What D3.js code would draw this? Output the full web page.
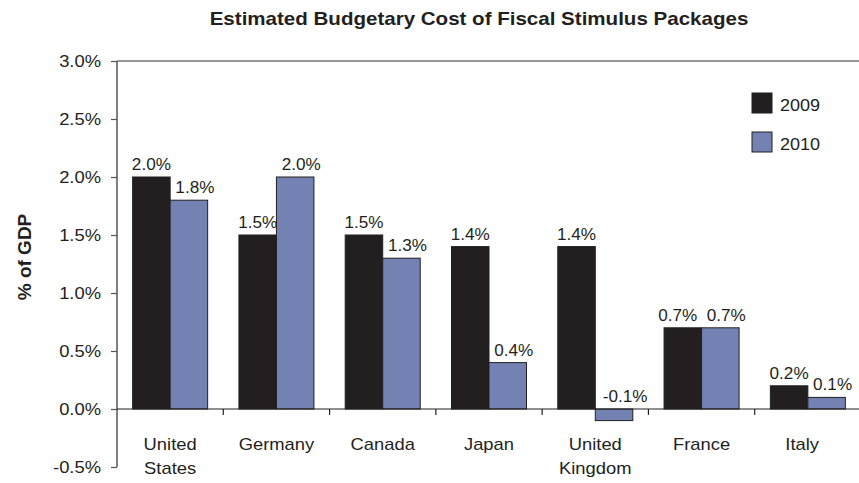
<!DOCTYPE html>
<html>
<head>
<meta charset="utf-8">
<script src="https://cdn.jsdelivr.net/npm/d3@7"></script>
<style>
  html, body { margin: 0; padding: 0; background: #fff; }
  svg { display: block; font-family: "Liberation Sans", Arial, Helvetica, sans-serif; }
</style>
</head>
<body>
<svg id="chart" width="859" height="483"></svg>
<script>
// Estimated budgetary cost of fiscal stimulus packages, % of GDP
const categories = [["United", "States"], ["Germany"], ["Canada"], ["Japan"], ["United", "Kingdom"], ["France"], ["Italy"]];
const seriesNames = ["2009", "2010"];
const values2009 = [2.0, 1.5, 1.5, 1.4, 1.4, 0.7, 0.2];
const values2010 = [1.8, 2.0, 1.3, 0.4, -0.1, 0.7, 0.1];
const yTicks = [-0.5, 0.0, 0.5, 1.0, 1.5, 2.0, 2.5, 3.0];
const titleText = "Estimated Budgetary Cost of Fiscal Stimulus Packages";
const yTitleText = "% of GDP";

const W = 859, H = 483;
const plot = { left: 117, right: 861, top: 61, bottom: 467 };
const colors = { "2009": "#231f20", "2010": "#7382b3" };
const stroke = "#231f20";

const svg = d3.select("#chart");
const keys = categories.map(c => c.join(" "));
const rows = keys.map((k, i) => ({ key: k, lines: categories[i], "2009": values2009[i], "2010": values2010[i] }));

// percent format with a plain hyphen for negatives
const pct = d => d3.format(".1f")(d).replace("\u2212", "-") + "%";

const x0 = d3.scaleBand().domain(keys).range([plot.left, plot.right]).paddingInner(0).paddingOuter(0);
const x1 = d3.scaleBand().domain(seriesNames).range([0, x0.bandwidth()]).paddingInner(0).paddingOuter(0.417);
const y = d3.scaleLinear().domain([-0.5, 3.0]).range([plot.bottom, plot.top]);

// lettering in this chart runs slightly wide
function stretch(sel, k) {
  sel.each(function () {
    const w = this.getComputedTextLength();
    if (w > 0) d3.select(this).attr("textLength", w * k).attr("lengthAdjust", "spacingAndGlyphs");
  });
}

// top frame line
svg.append("line")
  .attr("x1", plot.left).attr("x2", plot.right)
  .attr("y1", y(3.0)).attr("y2", y(3.0))
  .attr("stroke", "#333").attr("stroke-width", 1.2);

// bars
const groups = svg.append("g").selectAll("g").data(rows).join("g")
  .attr("transform", d => `translate(${x0(d.key)},0)`);

groups.selectAll("rect").data(d => seriesNames.map(s => ({ s, v: d[s] }))).join("rect")
  .attr("x", d => x1(d.s))
  .attr("width", x1.bandwidth())
  .attr("y", d => y(Math.max(0, d.v)))
  .attr("height", d => Math.abs(y(d.v) - y(0)))
  .attr("fill", d => colors[d.s])
  .attr("stroke", stroke).attr("stroke-width", 1);

// value labels
const vlabels = groups.selectAll("text.val").data(d => seriesNames.map(s => ({ s, v: d[s], same: d["2009"] === d["2010"] }))).join("text")
  .attr("class", "val")
  .attr("x", d => {
    let dx = 0;
    if (d.s === "2010") dx = d.v < 0 ? 11 : 6;
    else if (d.same) dx = -5;
    return x1(d.s) + x1.bandwidth() / 2 + dx;
  })
  .attr("y", d => y(Math.max(0, d.v)) - 7)
  .attr("text-anchor", "middle")
  .attr("font-size", 16)
  .attr("fill", "#231f20")
  .text(d => pct(d.v));
stretch(vlabels, 1.07);

// y axis
const yAxis = svg.append("g").attr("transform", `translate(${plot.left},0)`)
  .call(d3.axisLeft(y).tickValues(yTicks).tickSize(6).tickPadding(10).tickFormat(pct));
yAxis.attr("font-family", null);
yAxis.select(".domain").attr("stroke", "#555").attr("stroke-width", 1.5).attr("d", `M0,${plot.top}V${plot.bottom}`);
yAxis.selectAll(".tick line").attr("stroke", "#555").attr("stroke-width", 1.2);
yAxis.selectAll(".tick text").attr("font-size", 17).attr("fill", "#231f20");
stretch(yAxis.selectAll(".tick text"), 1.08);

// zero baseline and category ticks
svg.append("line")
  .attr("x1", plot.left).attr("x2", plot.right)
  .attr("y1", y(0)).attr("y2", y(0))
  .attr("stroke", "#231f20").attr("stroke-width", 1.2);
svg.append("g").selectAll("line").data(keys.slice(1)).join("line")
  .attr("x1", d => x0(d)).attr("x2", d => x0(d))
  .attr("y1", y(0)).attr("y2", y(0) + 6)
  .attr("stroke", "#231f20").attr("stroke-width", 1.2);

// category labels, kept inside the chart's right edge
const cat = svg.append("g").selectAll("text").data(rows).join("text")
  .attr("text-anchor", "middle")
  .attr("font-size", 17)
  .attr("fill", "#231f20");
cat.selectAll("tspan").data(d => d.lines).join("tspan")
  .attr("dy", (d, i) => i === 0 ? 0 : 24.5)
  .text(d => d);
cat.each(function (d) {
  const t = d3.select(this);
  const cx = x0(d.key) + x0.bandwidth() / 2;
  t.attr("y", y(0) + 40.5);
  t.selectAll("tspan").each(function () {
    const w = this.getComputedTextLength() * 1.08;
    const px = Math.min(cx, W - 40 - w / 2);
    d3.select(this).attr("x", px).attr("textLength", w).attr("lengthAdjust", "spacingAndGlyphs");
  });
});

// title
const title = svg.append("text")
  .attr("x", 479).attr("y", 24.5)
  .attr("text-anchor", "middle")
  .attr("font-size", 18.5).attr("font-weight", "bold")
  .attr("fill", "#231f20")
  .text(titleText);
stretch(title, 1.11);

// y axis title
svg.append("text")
  .attr("transform", "translate(31,257) rotate(-90)")
  .attr("text-anchor", "middle")
  .attr("font-size", 19).attr("font-weight", "bold")
  .attr("fill", "#231f20")
  .text(yTitleText);

// legend
const legend = svg.append("g").selectAll("g").data(seriesNames).join("g")
  .attr("transform", (d, i) => `translate(752,${93 + i * 39})`);
legend.append("rect")
  .attr("width", 20).attr("height", 20)
  .attr("fill", d => colors[d])
  .attr("stroke", stroke).attr("stroke-width", 1);
const ltext = legend.append("text")
  .attr("x", 28).attr("y", 17.5)
  .attr("font-size", 17)
  .attr("fill", "#231f20")
  .text(d => d);
stretch(ltext, 1.06);
</script>
</body>
</html>
